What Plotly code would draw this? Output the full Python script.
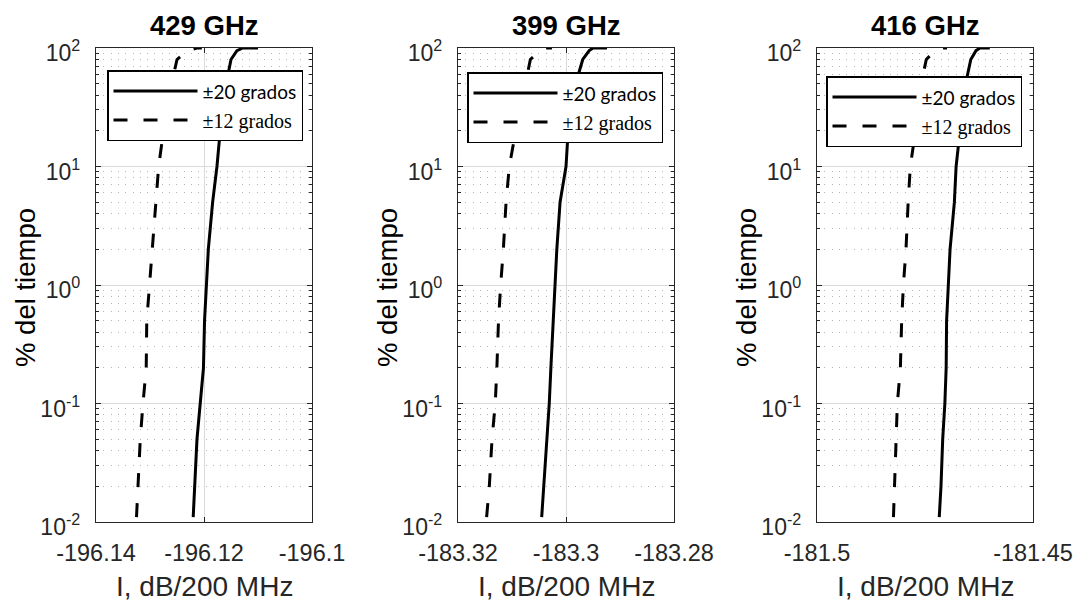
import plotly.graph_objects as go

# ---------------- data ----------------
pct_time = [0.011, 0.02, 0.05, 0.1, 0.2, 0.5, 1, 2, 5, 10, 20, 50, 80, 95, 100, 100]

I429_20 = [-196.1220, -196.1217, -196.1213, -196.1207, -196.1201, -196.1199, -196.1195, -196.1192,
           -196.1184, -196.1176, -196.1170, -196.1159, -196.1150, -196.1139, -196.1128, -196.1100]
I429_12 = [-196.1325, -196.1322, -196.1318, -196.1313, -196.1307, -196.1306, -196.1301, -196.1296,
           -196.1289, -196.1284, -196.1275, -196.1260, -196.1250, -196.1230, -196.1213, -196.1204]
I399_20 = [-183.3045, -183.3041, -183.3035, -183.3031, -183.3028, -183.3024, -183.3020, -183.3017,
           -183.3011, -183.3000, -183.2996, -183.2982, -183.2969, -183.2957, -183.2950, -183.2924]
I399_12 = [-183.3147, -183.3142, -183.3137, -183.3131, -183.3128, -183.3125, -183.3121, -183.3116,
           -183.3111, -183.3105, -183.3093, -183.3076, -183.3066, -183.3048, -183.3035, -183.3026]
I416_20 = [-181.4717, -181.4713, -181.4709, -181.4704, -181.4701, -181.4700, -181.4696, -181.4692,
           -181.4682, -181.4678, -181.4669, -181.4656, -181.4644, -181.4632, -181.4623, -181.4600]
I416_12 = [-181.4823, -181.4821, -181.4818, -181.4814, -181.4807, -181.4804, -181.4800, -181.4794,
           -181.4789, -181.4784, -181.4772, -181.4759, -181.4747, -181.4727, -181.4708, -181.4699]

titles = ["429 GHz", "399 GHz", "416 GHz"]
series_20 = [I429_20, I399_20, I416_20]
series_12 = [I429_12, I399_12, I416_12]
legend_names = ["±20 grados", "±12 grados"]

x_ranges = [[-196.14, -196.10], [-183.32, -183.28], [-181.50, -181.45]]
x_tickvals = [[-196.14, -196.12, -196.10], [-183.32, -183.30, -183.28], [-181.50, -181.45]]
x_ticktext = [["-196.14", "-196.12", "-196.1"], ["-183.32", "-183.3", "-183.28"], ["-181.5", "-181.45"]]
y_tickvals = [0.01, 0.1, 1, 10, 100]
y_ticktext = ["10<sup>-2</sup>", "10<sup>-1</sup>", "10<sup>0</sup>", "10<sup>1</sup>", "10<sup>2</sup>"]
x_label = "I, dB/200 MHz"
y_label = "% del tiempo"

# ---------------- layout geometry ----------------
W, H = 1080, 604
x_left_px = [96, 458, 817]
plot_w_px = 216
y_top_px, y_bot_px = 48, 522
legend_pos_px = [(107, 70), (467, 72), (826, 76)]

TXT = "#262626"
FONT = "Liberation Sans, Arial, sans-serif"

fig = go.Figure()
for i in range(3):
    sfx = "" if i == 0 else str(i + 1)
    leg = "legend" + sfx
    fig.add_trace(go.Scatter(
        x=series_20[i], y=pct_time, mode="lines",
        name='<span style="font-family:Lato;font-size:19px">' + legend_names[0] + '</span>',
        line=dict(color="black", width=3),
        xaxis="x" + sfx, yaxis="y" + sfx, legend=leg, legendgroup="a%d" % i,
        hoverinfo="skip"))
    fig.add_trace(go.Scatter(
        x=series_12[i], y=pct_time, mode="lines", name=legend_names[1],
        line=dict(color="black", width=3, dash="14px,16px"),
        xaxis="x" + sfx, yaxis="y" + sfx, legend=leg, legendgroup="b%d" % i,
        hoverinfo="skip"))

layout = dict(
    width=W, height=H, margin=dict(l=0, r=0, t=0, b=0, pad=0, autoexpand=False),
    paper_bgcolor="white", plot_bgcolor="white",
    font=dict(family=FONT, color=TXT, size=23),
    annotations=[],
)

for i in range(3):
    sfx = "" if i == 0 else str(i + 1)
    x0 = x_left_px[i] / W
    x1 = (x_left_px[i] + plot_w_px) / W
    yd = [1 - y_bot_px / H, 1 - y_top_px / H]
    layout["xaxis" + sfx] = dict(
        domain=[x0, x1], anchor="y" + sfx, range=x_ranges[i],
        tickvals=x_tickvals[i], ticktext=x_ticktext[i],
        ticks="inside", ticklen=5, tickcolor=TXT, tickwidth=1,
        showline=True, linecolor=TXT, linewidth=1.3, mirror="ticks",
        showgrid=True, gridcolor="#dadada", gridwidth=1.2,
        zeroline=False, tickfont=dict(size=23.5, color=TXT, family=FONT),
        ticklabelstandoff=10, automargin=False,
    )
    layout["yaxis" + sfx] = dict(
        domain=yd, anchor="x" + sfx, type="log", range=[-2, 2],
        tickvals=y_tickvals, ticktext=y_ticktext,
        ticks="inside", ticklen=5, tickcolor=TXT, tickwidth=1,
        showline=True, linecolor=TXT, linewidth=1.3, mirror="ticks",
        showgrid=True, gridcolor="#dadada", gridwidth=1.2,
        minor=dict(dtick="D1", ticks="inside", ticklen=3, tickcolor=TXT,
                   showgrid=True, gridcolor="#b4b4b4", gridwidth=1, griddash="1px,6.3px"),
        zeroline=False, tickfont=dict(size=23, color=TXT, family=FONT),
        ticklabelstandoff=10, ticklabelshift=5, automargin=False,
    )
    cx = (x_left_px[i] + plot_w_px / 2) / W
    layout["annotations"].append(dict(
        text="<b>" + titles[i] + "</b>", x=cx, y=1 - 25 / H, xref="paper", yref="paper",
        xanchor="center", yanchor="middle", showarrow=False,
        font=dict(size=27.5, color="black", family=FONT)))
    layout["annotations"].append(dict(
        text=x_label, x=cx, y=0, xref="paper", yref="paper",
        xanchor="center", yanchor="bottom", showarrow=False,
        font=dict(size=28, color=TXT, family=FONT)))
    layout["annotations"].append(dict(
        text=y_label, x=(x_left_px[i] - 71) / W, y=1 - 288 / H, xref="paper", yref="paper",
        xanchor="center", yanchor="middle", showarrow=False, textangle=-90,
        font=dict(size=27.5, color="black", family=FONT)))
    lx, ly = legend_pos_px[i]
    layout["legend" + sfx] = dict(
        x=lx / W, y=1 - ly / H, xanchor="left", yanchor="top", xref="paper", yref="paper",
        bgcolor="white", bordercolor="black", borderwidth=1.5,
        font=dict(family="Liberation Serif, Times New Roman, serif", size=20, color="black"),
        itemwidth=84, tracegroupgap=8, traceorder="normal",
    )

layout["showlegend"] = True
fig.update_layout(**layout)
fig.write_html("out.html")
